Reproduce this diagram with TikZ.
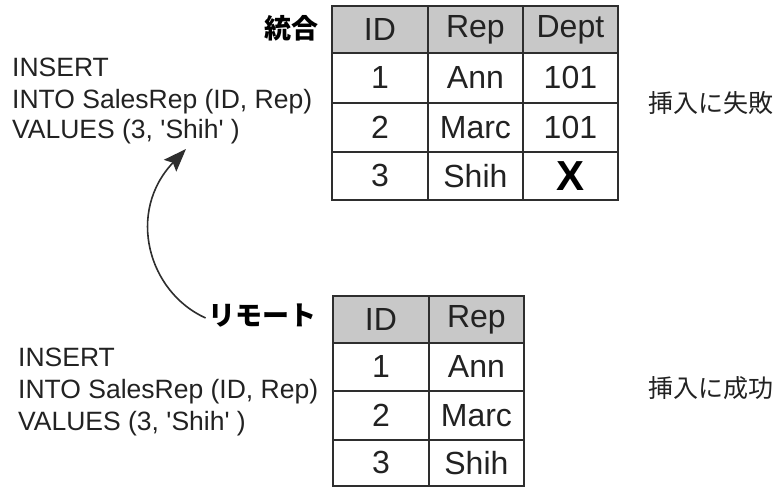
\documentclass[tikz,border=0pt]{standalone}
\usepackage{fontspec}
\setmainfont{Liberation Sans}
\newfontfamily\jp{Noto Sans CJK JP}
\usetikzlibrary{arrows.meta}
\definecolor{linec}{HTML}{2E2E2E}
\definecolor{headc}{HTML}{C8C8C8}
\definecolor{txtc}{HTML}{222222}
\begin{document}
\begin{tikzpicture}[x=1pt,y=-1pt,
  cell/.style={draw=linec, line width=1.8pt, inner sep=0pt, anchor=north west,
    text=txtc, font=\fontsize{32}{38}\selectfont},
  head/.style={cell, fill=headc},
  sql/.style={anchor=base west, inner sep=0pt, text=txtc, font=\fontsize{26.5}{31}\selectfont},
  jlab/.style={inner sep=0pt, text=txtc, font=\jp\fontsize{25}{30}\selectfont},
  jbold/.style={inner sep=0pt, text=black, font=\jp\bfseries\fontsize{27}{32}\selectfont}]
\useasboundingbox (0,0) rectangle (782,487);
\fill[white] (0,0) rectangle (782,487);

% top table
\node[head, minimum width=96pt, minimum height=47pt] (a00) at (331,5) {ID};
\node[head, minimum width=95pt, minimum height=47pt] (a01) at (427,5) {Rep};
\node[head, minimum width=95pt, minimum height=47pt] (a02) at (522,5) {Dept};
\node[cell, minimum width=96pt, minimum height=50pt] (a10) at (331,52) {1};
\node[cell, minimum width=95pt, minimum height=50pt] (a11) at (427,52) {Ann};
\node[cell, minimum width=95pt, minimum height=50pt] (a12) at (522,52) {101};
\node[cell, minimum width=96pt, minimum height=49pt] (a20) at (331,102) {2};
\node[cell, minimum width=95pt, minimum height=49pt] (a21) at (427,102) {Marc};
\node[cell, minimum width=95pt, minimum height=49pt] (a22) at (522,102) {101};
\node[cell, minimum width=96pt, minimum height=48pt] (a30) at (331,151) {3};
\node[cell, minimum width=95pt, minimum height=48pt] (a31) at (427,151) {Shih};
\node[cell, minimum width=95pt, minimum height=48pt, font=\bfseries\fontsize{42}{46}\selectfont, text=black] (a32) at (522,151) {X};

% bottom table
\node[head, minimum width=96pt, minimum height=47pt] (b00) at (332,295) {ID};
\node[head, minimum width=95pt, minimum height=47pt] (b01) at (428,295) {Rep};
\node[cell, minimum width=96pt, minimum height=48pt] (b10) at (332,342) {1};
\node[cell, minimum width=95pt, minimum height=48pt] (b11) at (428,342) {Ann};
\node[cell, minimum width=96pt, minimum height=49pt] (b20) at (332,390) {2};
\node[cell, minimum width=95pt, minimum height=49pt] (b21) at (428,390) {Marc};
\node[cell, minimum width=96pt, minimum height=46pt] (b30) at (332,439) {3};
\node[cell, minimum width=95pt, minimum height=46pt] (b31) at (428,439) {Shih};

% labels
\node[jbold, anchor=east] (merge) at (319,28) {統合};
\node[jbold, anchor=east] (remote) at (317,316) {リモート};
\node[jlab, anchor=west] (fail) at (648,103) {挿入に失敗};
\node[jlab, anchor=west] (ok) at (648,388) {挿入に成功};

% SQL blocks
\node[sql] (s1a) at (12,77) {INSERT};
\node[sql] (s1b) at (12,108) {INTO SalesRep (ID, Rep)};
\node[sql] (s1c) at (12,138) {VALUES (3, \textquotesingle Shih\textquotesingle\ )};
\node[sql] (s2a) at (18,366) {INSERT};
\node[sql] (s2b) at (18,398) {INTO SalesRep (ID, Rep)};
\node[sql] (s2c) at (18,430) {VALUES (3, \textquotesingle Shih\textquotesingle\ )};

% arrow
\coordinate (tip) at (186,149);
\draw[linec, line width=1.6pt, -{Stealth[length=23pt, width=17pt, inset=4pt]}]
  ([xshift=-3pt,yshift=-2pt]remote.west) .. controls (148,292) and (126,212) .. (tip);
\end{tikzpicture}
\end{document}
